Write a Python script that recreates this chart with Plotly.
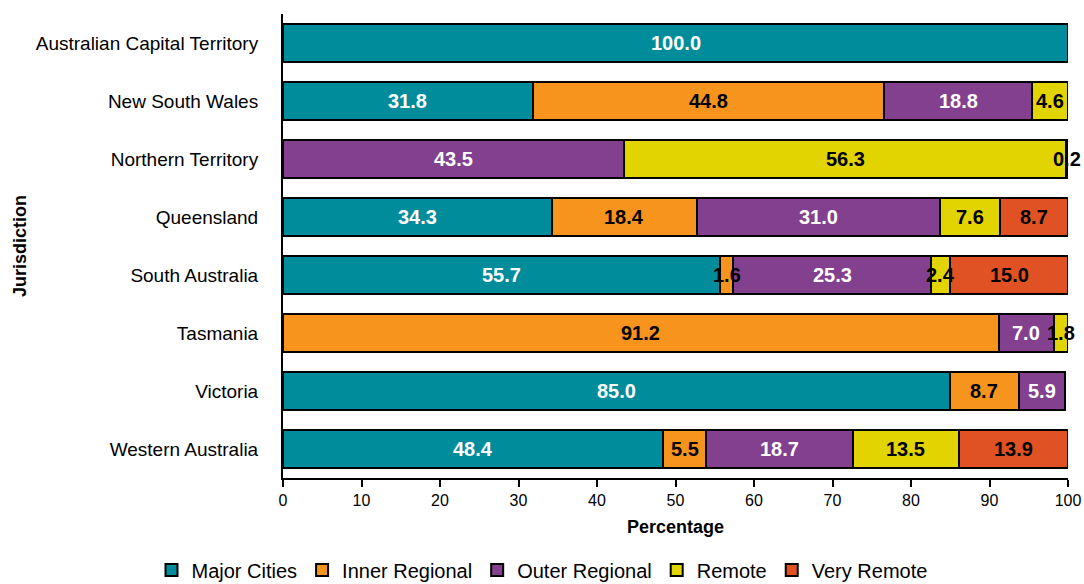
import plotly.graph_objects as go

jurisdictions = ["Australian Capital Territory", "New South Wales", "Northern Territory",
                 "Queensland", "South Australia", "Tasmania", "Victoria", "Western Australia"]
major_cities = [100.0, 31.8, 0, 34.3, 55.7, 0, 85.0, 48.4]
inner_regional = [0, 44.8, 0, 18.4, 1.6, 91.2, 8.7, 5.5]
outer_regional = [0, 18.8, 43.5, 31.0, 25.3, 7.0, 5.9, 18.7]
remote = [0, 4.6, 56.3, 7.6, 2.4, 1.8, 0, 13.5]
very_remote = [0, 0, 0.2, 8.7, 15.0, 0, 0, 13.9]

series = [
    ("Major Cities", major_cities, "#008c9a", "white"),
    ("Inner Regional", inner_regional, "#f7941d", "black"),
    ("Outer Regional", outer_regional, "#82408f", "white"),
    ("Remote", remote, "#e2d400", "black"),
    ("Very Remote", very_remote, "#e05223", "black"),
]

fig = go.Figure()
annotations = []
base = [0.0] * len(jurisdictions)
for name, vals, color, tcolor in series:
    fig.add_trace(go.Bar(
        name=name, y=jurisdictions, x=vals, orientation="h",
        marker=dict(color=color, line=dict(color="black", width=2)),
    ))
    for i, v in enumerate(vals):
        if v > 0:
            annotations.append(dict(
                x=base[i] + v / 2, y=jurisdictions[i], xref="x", yref="y",
                text=f"<b>{v:.1f}</b>", showarrow=False,
                font=dict(family="Liberation Sans, Arial", size=20, color=tcolor),
            ))
        base[i] += v

fig.update_layout(
    barmode="stack", bargap=0.34,
    width=1084, height=584,
    margin=dict(l=283, r=16, t=14, b=106),
    plot_bgcolor="white", paper_bgcolor="white",
    font=dict(family="Liberation Sans, Arial", size=16, color="black"),
    annotations=annotations,
    legend=dict(orientation="h", x=0.5, xanchor="center", xref="container",
                y=0.024, yanchor="middle", yref="container",
                font=dict(family="Liberation Sans, Arial", size=20),
                traceorder="normal", itemwidth=30),
    xaxis=dict(range=[0, 100], dtick=10, showgrid=False, zeroline=False,
               showline=True, linecolor="black", linewidth=2, automargin=False,
               ticks="outside", ticklen=7, tickwidth=2, tickcolor="black",
               tickfont=dict(size=16),
               title=dict(text="<b>Percentage</b>", font=dict(size=18), standoff=12)),
    yaxis=dict(autorange="reversed", showgrid=False, zeroline=False,
               showline=True, linecolor="black", linewidth=2, automargin=False,
               ticks="", tickfont=dict(size=19), ticklabelstandoff=19,
               title=dict(text="<b>Jurisdiction</b>", font=dict(size=18), standoff=4)),
)

fig.write_html("out.html")
